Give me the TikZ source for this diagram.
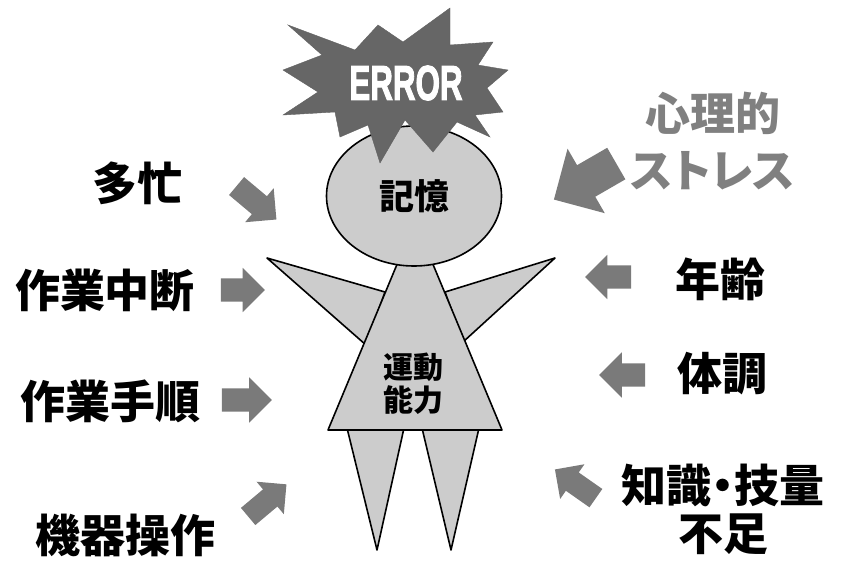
\documentclass[tikz,border=0pt]{standalone}
\usepackage{fontspec}
\setmainfont{Noto Sans CJK JP}[BoldFont={Noto Sans CJK JP Black},RawFeature=+palt]
\newfontfamily\errfont{Liberation Sans}[BoldFeatures={FakeBold=2.5}]
\usetikzlibrary{shapes.arrows,shapes.geometric}

\begin{document}
\begin{tikzpicture}[
  x=1pt,y=-1pt,
  figstyle/.style={draw, line width=1.6pt, fill=black!20, line join=round},
  starstyle/.style={fill=black!60, draw=black!62, line join=miter},
  labelstyle/.style={font=\bfseries\fontsize{45}{48}\selectfont, inner sep=0pt, align=center},
  arrowstyle/.style={single arrow, fill=black!52, draw=none, inner xsep=0pt, single arrow head indent=0pt},
]
\useasboundingbox (0,0) rectangle (846,560);

% --- the figure: arms and legs behind the body ---
\draw[figstyle] (385,292) -- (267,258) -- (366,345) -- cycle;
\draw[figstyle] (445,292) -- (555,258) -- (463,342) -- cycle;
\draw[figstyle] (347,428) -- (377,550) -- (404,428) -- cycle;
\draw[figstyle] (422,428) -- (451,550) -- (479,428) -- cycle;
\draw[figstyle] (398,262) -- (432,262) -- (502,430) -- (328,430) -- cycle;
\node[font=\bfseries\fontsize{30}{33}\selectfont, align=center, inner sep=0pt] (motor) at (413,384) {運動\\能力};

% head
\node[figstyle, ellipse, minimum width=175pt, minimum height=140pt, inner sep=0pt,
  font=\bfseries\fontsize{35}{38}\selectfont] (head) at (414,196) {記憶};

% --- burst over the head ---
\fill[starstyle] (288,25) -- (355,50) -- (378,25) -- (403,42) -- (450,8) -- (450,45)
  -- (493,42) -- (478,65) -- (508,70) -- (487,88) -- (503,112) -- (475,115)
  -- (490,137) -- (457,122) -- (433,152) -- (405,120) -- (380,163) -- (368,125)
  -- (340,137) -- (335,112) -- (283,115) -- (318,92) -- (283,70) -- (322,55) -- cycle;
\node[text=white, inner sep=0pt, font=\errfont\bfseries\fontsize{49}{49}\selectfont] (err) at (406,83)
  {\scalebox{0.64}[1]{ERROR}};

% --- causes, left side ---
\node[labelstyle] (busy) at (137,183) {多忙};
\node[labelstyle] (interrupt) at (105,290) {作業中断};
\node[labelstyle] (procedure) at (110,401) {作業手順};
\node[labelstyle] (device) at (125,535) {機器操作};

% --- causes, right side ---
\node[labelstyle, text=black!50, font=\bfseries\fontsize{45}{57}\selectfont] (stress) at (713,141) {心理的\\ストレス};
\node[labelstyle] (age) at (720,279) {年齢};
\node[labelstyle] (health) at (722,374) {体調};
\node[labelstyle] (skill) at (723,509) {知識・技量\\不足};

% --- block arrows pointing at the figure (shaft half width, head overhang) ---
\foreach \nm/\pos/\ang/\len/\shaft/\ext in {
    arBusy/{252,199}/-40/52/11.5/10.5,
    arInterrupt/{237,290}/0/44/11.5/10.5,
    arProcedure/{241,400}/0/50/11.5/11,
    arDevice/{263,504}/40/50/11/10,
    arStress/{593,177}/210/72/18/19,
    arAge/{614,277}/180/46/11.5/10.5,
    arHealth/{628,375}/180/46/11.5/11,
    arSkill/{580,487}/145/50/11/10} {
  \node[arrowstyle, rotate=\ang, minimum height=\len pt, inner ysep=\shaft pt,
    single arrow head extend=\ext pt] (\nm) at (\pos) {};
}

\end{tikzpicture}
\end{document}
